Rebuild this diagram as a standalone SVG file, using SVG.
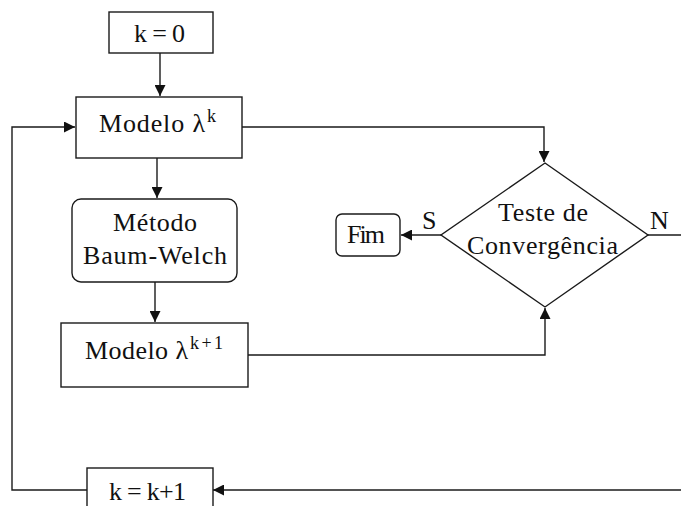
<svg xmlns="http://www.w3.org/2000/svg" width="681" height="506" viewBox="0 0 681 506">
  <style>
    .box { fill: #ffffff; stroke: #1a1a1a; stroke-width: 1.4; }
    .line { fill: none; stroke: #1a1a1a; stroke-width: 1.4; }
    .txt { font-family: "Liberation Serif", "Times New Roman", serif; font-size: 26px; fill: #111111; }
    .sup { font-family: "Liberation Serif", "Times New Roman", serif; font-size: 18px; fill: #111111; }
  </style>
  <defs>
    <marker id="arrow" viewBox="0 0 10 10" refX="10" refY="5" markerWidth="11" markerHeight="11" markerUnits="userSpaceOnUse" orient="auto">
      <path d="M0,0 L10,5 L0,10 Z" fill="#111111"/>
    </marker>
  </defs>
  <rect width="681" height="506" fill="#ffffff"/>

  <!-- connectors -->
  <g id="connectors">
    <path class="line" d="M160,53 V96" marker-end="url(#arrow)"/>
    <path class="line" d="M157,158 V198" marker-end="url(#arrow)"/>
    <path class="line" d="M155,282 V322" marker-end="url(#arrow)"/>
    <path class="line" d="M242,127 H544 V162" marker-end="url(#arrow)"/>
    <path class="line" d="M248,355 H545 V308" marker-end="url(#arrow)"/>
    <path class="line" d="M441,235 H401" marker-end="url(#arrow)"/>
    <path class="line" d="M648,235 H681"/>
    <path class="line" d="M681,490 H213" marker-end="url(#arrow)"/>
    <path class="line" d="M87,490 H12 V127 H75" marker-end="url(#arrow)"/>
    <text class="txt" x="422" y="229">S</text>
    <text class="txt" x="650" y="229">N</text>
  </g>

  <g id="start">
    <rect class="box" x="109" y="12" width="104" height="41"/>
    <text class="txt" x="134" y="42" textLength="51" lengthAdjust="spacing">k = 0</text>
  </g>

  <g id="model">
    <rect class="box" x="76" y="97" width="166" height="61"/>
    <text class="txt" x="99" y="132" textLength="106" lengthAdjust="spacing">Modelo λ</text>
    <text class="sup" x="207" y="122">k</text>
  </g>

  <g id="baum-welch">
    <rect class="box" x="72" y="199" width="165" height="83" rx="9"/>
    <text class="txt" x="113" y="231" textLength="84" lengthAdjust="spacing">Método</text>
    <text class="txt" x="83" y="264" textLength="144" lengthAdjust="spacing">Baum-Welch</text>
  </g>

  <g id="model-next">
    <rect class="box" x="61" y="323" width="187" height="64"/>
    <text class="txt" x="85" y="359" textLength="103" lengthAdjust="spacing">Modelo λ</text>
    <text class="sup" x="190" y="349" textLength="33" lengthAdjust="spacing">k+1</text>
  </g>

  <g id="convergence">
    <polygon class="box" points="545,163 648,235 545,307 441,235"/>
    <text class="txt" x="498" y="221" textLength="90" lengthAdjust="spacing">Teste de</text>
    <text class="txt" x="467" y="254" textLength="151" lengthAdjust="spacing">Convergência</text>
  </g>

  <g id="end">
    <rect class="box" x="336" y="214" width="64" height="42" rx="6"/>
    <text class="txt" x="347" y="243" textLength="38" lengthAdjust="spacing">Fim</text>
  </g>

  <g id="increment">
    <rect class="box" x="87" y="468" width="126" height="50"/>
    <text class="txt" x="109" y="500" textLength="77" lengthAdjust="spacing">k = k+1</text>
  </g>
</svg>
